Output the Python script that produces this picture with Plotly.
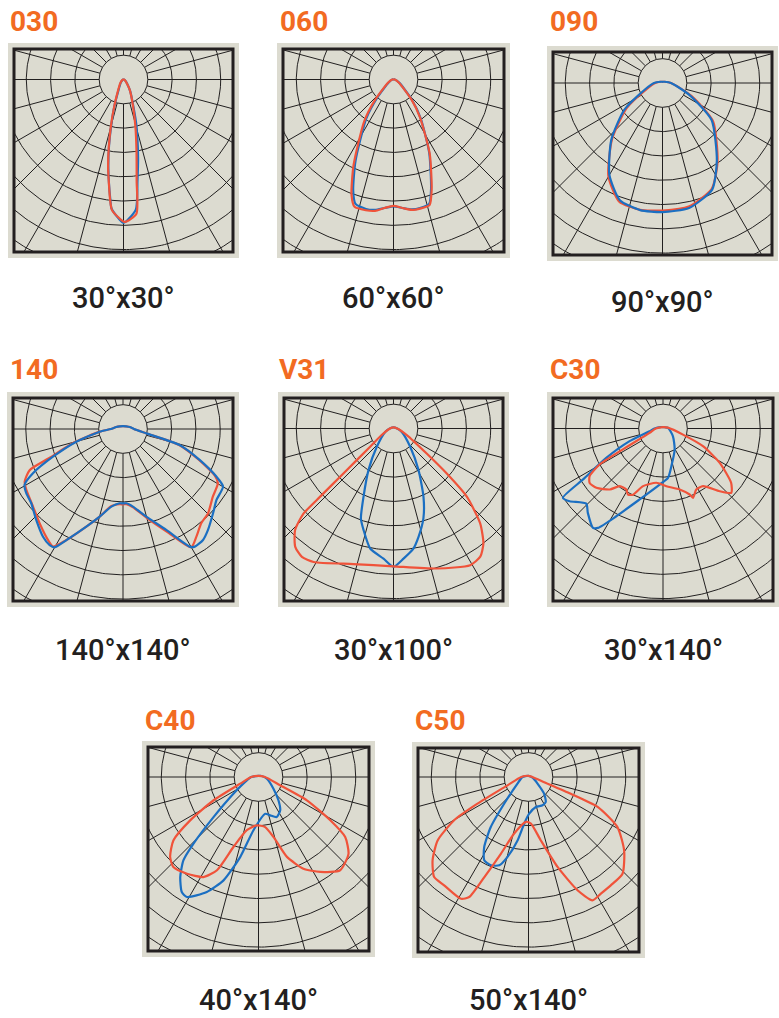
import numpy as np
import plotly.graph_objects as go

# ---------------- data (angle from nadir in degrees, negative = left; r in ring units) -------------
PANEL_CODES = ["030", "060", "090", "140", "V31", "C30", "C40", "C50"]
PANEL_CAPTIONS = ["30°x30°", "60°x60°", "90°x90°", "140°x140°",
                  "30°x100°", "30°x140°", "40°x140°", "50°x140°"]

P030_RED_ANG = [-180, -90, -60, -40, -26.6, -18.9, -15, -12.3, -10, -8, -6.3, -5, 0.5, 5.5, 7.4, 10.4, 14.2, 19.5, 30.7, 40, 60, 90, 180]
P030_RED_R = [0, 0.02, 0.08, 0.22, 0.49, 1.19, 2.02, 2.84, 3.65, 4.32, 5.0, 5.4, 5.86, 5.55, 4.2, 2.96, 2.0, 1.19, 0.51, 0.22, 0.08, 0.02, 0]
P030_BLUE_ANG = [-180, -90, -60, -40, -26, -19, -15, -12.3, -10, -8, -6.3, -5.3, 0, 5.4, 7.9, 10.5, 13, 16, 20, 30, 40, 60, 90, 180]
P030_BLUE_R = [0, 0.02, 0.06, 0.18, 0.45, 1.15, 1.95, 2.8, 3.6, 4.3, 4.95, 5.33, 5.9, 5.38, 4.19, 3.3, 2.56, 1.9, 1.2, 0.55, 0.25, 0.08, 0.02, 0]

P060_RED_ANG = [-180, -90, -60, -42, -35, -25, -20, -17, -12, -8, -4, 0, 4, 8, 12, 16, 19, 26, 35, 42, 60, 90, 180]
P060_RED_R = [0, 0.05, 0.25, 1.14, 2.1, 3.89, 5.05, 5.48, 5.5, 5.46, 5.3, 5.2, 5.3, 5.42, 5.42, 5.38, 4.82, 3.4, 1.9, 1.1, 0.25, 0.05, 0]
P060_BLUE_ANG = [-180, -90, -60, -42, -35, -25, -20, -17, -12, -8, -4, 0, 4, 8, 12, 16, 19, 26, 35, 42, 60, 90, 180]
P060_BLUE_R = [0, 0.05, 0.22, 1.0, 1.95, 3.7, 4.85, 5.35, 5.45, 5.42, 5.3, 5.22, 5.3, 5.4, 5.4, 5.33, 4.75, 3.35, 1.95, 1.15, 0.28, 0.05, 0]

P090_RED_ANG = [-180, -120, -90, -69, -55, -42, -30, -20, -10, 0, 12, 25, 35, 53, 66, 90, 120, 180]
P090_RED_R = [0.05, 0.1, 0.3, 0.7, 1.8, 3.1, 4.45, 5.2, 5.3, 5.25, 5.2, 4.8, 3.95, 2.6, 1.3, 0.35, 0.1, 0.05]
P090_BLUE_ANG = [-180, -120, -90, -69, -55, -42, -30, -20, -10, 0, 12, 25, 35, 53, 66, 90, 120, 180]
P090_BLUE_R = [0.05, 0.1, 0.35, 0.8, 1.92, 3.15, 4.37, 5.13, 5.31, 5.31, 5.26, 4.84, 3.9, 2.53, 1.22, 0.35, 0.1, 0.05]

P140_RED_ANG = [-180, -130, -106, -90, -83.5, -74.8, -68.4, -66.2, -61.8, -57.8, -49.2, -41.5, -34.1, -30.8, -27, -20.6, -14.9, -8.5, -2.6, 0, 2.6, 7.3, 14.9, 23.2, 30, 34.3, 39.7, 45.2, 53, 60.2, 63, 68, 74.2, 79.4, 90, 106, 130, 180]
P140_RED_R = [0.12, 0.17, 0.29, 0.5, 0.97, 2.05, 3.3, 4.2, 4.59, 4.7, 4.89, 5.18, 5.51, 5.63, 5.13, 4.29, 3.73, 3.2, 3.1, 3.1, 3.1, 3.25, 3.78, 4.6, 5.62, 5.36, 5.04, 4.93, 4.63, 4.5, 4.25, 3.35, 2.38, 0.96, 0.45, 0.29, 0.17, 0.12]
P140_BLUE_ANG = [-180, -130, -106, -90, -83.5, -74.8, -68.4, -63.8, -60.4, -56.3, -50.9, -43.7, -36.6, -32.3, -30, -27, -20.6, -14.9, -8.5, -2.6, 0, 2.6, 7.3, 14.9, 23.2, 29.5, 31.4, 35.8, 40.1, 46.8, 52.8, 60.1, 63, 68, 74.2, 79.4, 90, 106, 130, 180]
P140_BLUE_R = [0.12, 0.17, 0.29, 0.5, 0.97, 1.99, 3.1, 4.13, 4.66, 4.78, 4.86, 5.17, 5.52, 5.65, 5.62, 5.13, 4.29, 3.73, 3.23, 3.06, 3.06, 3.06, 3.22, 3.73, 4.52, 5.56, 5.67, 5.63, 5.43, 5.08, 4.83, 4.75, 4.31, 3.4, 2.42, 0.98, 0.45, 0.29, 0.17, 0.12]

V31_RED_ANG = [-180, -90, -60, -52, -48.1, -47.1, -46.6, -44.1, -39.7, -35.5, -30.9, -16.5, 0, 17.2, 29.3, 34.1, 38, 42.4, 47.1, 49.8, 53, 63.8, 90, 180]
V31_RED_R = [0.05, 0.15, 0.6, 1.22, 2.77, 4.12, 5.1, 5.82, 6.33, 6.49, 6.4, 5.82, 5.67, 6.03, 6.45, 6.37, 6.01, 5.29, 4.12, 2.87, 1.71, 0.61, 0.15, 0.05]
V31_BLUE_ANG = [-180, -90, -67.6, -42.4, -31, -23.7, -19.9, -16.4, -11, -4.4, 0, 4.4, 9.4, 13, 18.4, 23.7, 31, 42.4, 67.6, 90, 180]
V31_BLUE_R = [0.05, 0.15, 0.37, 1.02, 2.0, 3.07, 3.94, 4.36, 5.03, 5.37, 5.69, 5.37, 5.01, 4.58, 3.9, 3.07, 2.0, 1.02, 0.37, 0.15, 0.05]

C30_RED_ANG = [-180, -90, -72, -62.5, -60.4, -57, -53.4, -48.3, -41.1, -36.9, -31, -27.9, -24.3, -19.1, -7, 3.4, 15.3, 22, 23.4, 28.6, 34.8, 42.1, 46.7, 51.4, 58.8, 66.1, 73, 100, 180]
C30_RED_R = [0.06, 0.3, 0.58, 1.86, 3.0, 3.6, 3.76, 3.67, 3.33, 2.97, 2.93, 3.08, 2.99, 2.51, 2.25, 2.38, 2.6, 2.93, 3.11, 2.86, 2.89, 3.48, 3.86, 3.59, 2.73, 1.8, 0.86, 0.2, 0.06]
C30_BLUE_ANG = [-180, -120, -90, -78.7, -69.2, -62.6, -57.5, -55.3, -52.1, -45.6, -41.7, -35.2, -33.2, -28, -18.2, -3.4, 5.8, 12.5, 29, 52, 98, 125, 180]
C30_BLUE_R = [0.06, 0.12, 0.35, 0.56, 1.47, 2.63, 3.9, 5.01, 4.87, 4.42, 4.65, 5.0, 4.89, 4.09, 3.07, 2.31, 2.04, 1.59, 0.99, 0.52, 0.21, 0.09, 0.06]

C40_RED_ANG = [-180, -90, -70, -62.6, -57.6, -53.3, -47.9, -43.4, -36.5, -28.8, -24, -19.7, -12.4, -2, 7.6, 14.1, 19.6, 26.1, 33, 41.2, 49.5, 55.3, 58.9, 64.2, 69, 90, 180]
C40_RED_R = [0.05, 0.3, 0.8, 2.08, 3.33, 4.37, 4.9, 5.1, 4.95, 4.7, 4.2, 3.06, 2.24, 1.99, 2.08, 2.55, 3.49, 4.2, 4.66, 5.1, 4.87, 4.34, 3.45, 2.21, 0.95, 0.27, 0.05]
C40_BLUE_ANG = [-180, -90, -73.7, -56.3, -48.3, -44.3, -42, -38, -33.7, -30.8, -24.2, -18.7, -12.9, -5.4, 10.3, 16.9, 24.5, 33, 40.6, 52, 79, 120, 180]
C40_BLUE_R = [0.05, 0.3, 0.5, 1.24, 2.48, 3.83, 4.62, 5.23, 5.69, 5.75, 5.19, 4.49, 3.38, 2.2, 1.54, 1.65, 1.81, 1.64, 1.26, 0.78, 0.35, 0.1, 0.05]

C50_RED_ANG = [-180, -90, -68.4, -62.4, -59.8, -55.1, -49, -43.3, -37.9, -29, -26.3, -23.8, -19.8, -14.2, -3.4, 3, 11, 17.9, 23.4, 27.4, 31.8, 37.2, 44.2, 52.5, 60.6, 66.6, 68.4, 71.8, 90, 180]
C50_RED_R = [0.05, 0.3, 0.93, 2.37, 3.54, 4.56, 5.23, 5.66, 5.65, 5.73, 5.51, 4.5, 3.36, 2.4, 1.85, 1.92, 2.66, 3.89, 5.08, 5.72, 5.65, 5.6, 5.55, 4.96, 4.2, 3.1, 1.87, 0.68, 0.16, 0.05]
C50_BLUE_ANG = [-180, -90, -59, -42.3, -37, -32.3, -28, -23.1, -18.3, -14.7, -9.8, -5.3, 1.1, 13.7, 26.4, 34.6, 43, 53.8, 80, 180]
C50_BLUE_R = [0.05, 0.25, 0.53, 1.49, 2.58, 3.41, 3.88, 3.95, 3.83, 3.4, 2.65, 1.93, 1.51, 1.27, 1.3, 1.25, 0.94, 0.46, 0.17, 0.05]

CURVES = [
    (P030_RED_ANG, P030_RED_R, P030_BLUE_ANG, P030_BLUE_R),
    (P060_RED_ANG, P060_RED_R, P060_BLUE_ANG, P060_BLUE_R),
    (P090_RED_ANG, P090_RED_R, P090_BLUE_ANG, P090_BLUE_R),
    (P140_RED_ANG, P140_RED_R, P140_BLUE_ANG, P140_BLUE_R),
    (V31_RED_ANG, V31_RED_R, V31_BLUE_ANG, V31_BLUE_R),
    (C30_RED_ANG, C30_RED_R, C30_BLUE_ANG, C30_BLUE_R),
    (C40_RED_ANG, C40_RED_R, C40_BLUE_ANG, C40_BLUE_R),
    (C50_RED_ANG, C50_RED_R, C50_BLUE_ANG, C50_BLUE_R),
]

# ---------------- layout (pixel geometry) ----------------
W, H = 779, 1018
S = 24.3  # pixels per ring
# frame: left, top, right, bottom, centre x, centre y
FRAMES = [
    (14, 49, 233, 252, 123.5, 79.5),
    (283, 49, 504, 252, 393.5, 79.5),
    (553, 52, 772, 255, 662.5, 83),
    (13, 398, 233, 601, 123, 429),
    (284, 398, 503, 601, 393.5, 428.5),
    (553, 398, 773, 601, 663, 428.5),
    (148, 747, 369, 951, 258.5, 777),
    (418, 748, 639, 952, 528.5, 777),
]
TITLE_POS = [(8, 22), (278, 22), (548, 22), (8, 369), (277, 369), (548, 369), (143, 720), (413, 720)]
CAPTION_Y = [298, 298, 302, 650, 650, 650, 1000, 1000]
BLUE_ON_TOP = [False, False, True, True, False, False, False, False]

BG = "#dcdbd0"
GRID = "#222020"
RED = "#f0533a"
BLUE = "#1b6fc2"
ORANGE = "#f26b22"
TEXT = "#231f20"
PAD = 6

fig = go.Figure()

# grid geometry (in ring units)
t = np.linspace(0, 2 * np.pi, 361)
gx, gy = [], []
for k in range(1, 10):
    gx += list(k * np.cos(t)) + [None]
    gy += list(k * np.sin(t)) + [None]
for a in range(0, 360, 15):
    ar = np.radians(a)
    gx += [np.cos(ar), 12 * np.cos(ar), None]
    gy += [np.sin(ar), 12 * np.sin(ar), None]


def polar_xy(ang, r):
    a = np.radians(np.asarray(ang, dtype=float))
    rr = np.asarray(r, dtype=float)
    return rr * np.sin(a), -rr * np.cos(a)


for i, (L, T, R, B, cx, cy) in enumerate(FRAMES):
    n = i + 1
    xa = "x" if n == 1 else f"x{n}"
    ya = "y" if n == 1 else f"y{n}"
    fig.add_trace(go.Scatter(x=gx, y=gy, mode="lines", line=dict(color=GRID, width=1),
                             hoverinfo="skip", showlegend=False, xaxis=xa, yaxis=ya))
    ra, rr, ba, br = CURVES[i]
    rx, ry = polar_xy(ra, rr)
    bx, by = polar_xy(ba, br)
    red_tr = go.Scatter(x=rx, y=ry, mode="lines", line=dict(color=RED, width=2.2, shape="spline", smoothing=0.6),
                        showlegend=False, xaxis=xa, yaxis=ya)
    blue_tr = go.Scatter(x=bx, y=by, mode="lines", line=dict(color=BLUE, width=2.2, shape="spline", smoothing=0.6),
                         showlegend=False, xaxis=xa, yaxis=ya)
    if BLUE_ON_TOP[i]:
        fig.add_trace(red_tr); fig.add_trace(blue_tr)
    else:
        fig.add_trace(blue_tr); fig.add_trace(red_tr)

    xkey = "xaxis" if n == 1 else f"xaxis{n}"
    ykey = "yaxis" if n == 1 else f"yaxis{n}"
    fig.update_layout(**{
        xkey: dict(domain=[L / W, R / W], range=[(L - cx) / S, (R - cx) / S], visible=False,
                   fixedrange=True, anchor=ya),
        ykey: dict(domain=[1 - B / H, 1 - T / H], range=[-(B - cy) / S, (cy - T) / S], visible=False,
                   fixedrange=True, anchor=xa),
    })
    # outer light panel
    fig.add_shape(type="rect", xref="paper", yref="paper", layer="below",
                  x0=(L - PAD) / W, x1=(R + PAD) / W, y0=1 - (B + PAD) / H, y1=1 - (T - PAD) / H,
                  fillcolor=BG, line=dict(width=0))
    # dark frame
    fig.add_shape(type="rect", xref="paper", yref="paper", layer="above",
                  x0=L / W, x1=R / W, y0=1 - B / H, y1=1 - T / H,
                  line=dict(color=TEXT, width=3), fillcolor="rgba(0,0,0,0)")
    # title
    tx, ty = TITLE_POS[i]
    fig.add_annotation(x=tx / W, y=1 - ty / H, xref="paper", yref="paper", text=PANEL_CODES[i],
                       showarrow=False, xanchor="left", yanchor="middle",
                       font=dict(family="Roboto", size=28, color=ORANGE, weight=700))
    fig.add_annotation(x=cx / W, y=1 - CAPTION_Y[i] / H, xref="paper", yref="paper", text=PANEL_CAPTIONS[i],
                       showarrow=False, xanchor="center", yanchor="middle",
                       font=dict(family="Roboto", size=29, color=TEXT, weight=500))

fig.update_layout(width=W, height=H, margin=dict(l=0, r=0, t=0, b=0),
                  paper_bgcolor="white", plot_bgcolor=BG, showlegend=False)
fig.write_html("out.html", config={"displayModeBar": False},
               post_script="document.body.style.margin='0';document.body.style.overflow='hidden';")
